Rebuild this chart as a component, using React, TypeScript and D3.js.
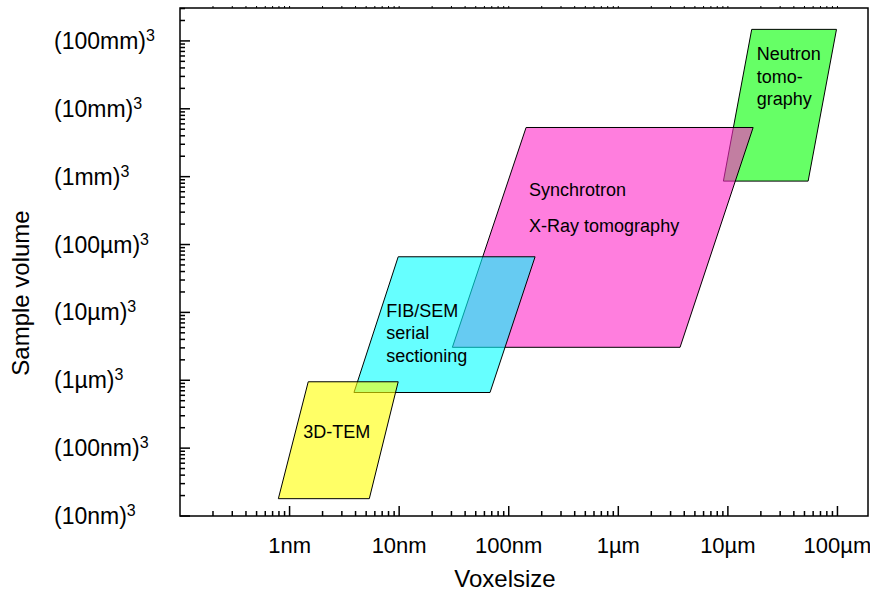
import React from "react";
import * as d3 from "d3";

const W = 870;
const H = 593;

// Techniques (drawn in this order)
const techniques = ["Neutron tomography", "Synchrotron X-Ray tomography", "FIB/SEM serial sectioning", "3D-TEM"];
const labelLines = [["Neutron", "tomo-", "graphy"], ["Synchrotron", "X-Ray tomography"], ["FIB/SEM", "serial", "sectioning"], ["3D-TEM"]];
// Sample edge length (m) at top / bottom of each region (volume = edge^3)
const topEdge = [0.148, 5.3e-3, 66e-6, 0.95e-6];
const bottomEdge = [0.86e-3, 3.06e-6, 0.66e-6, 18e-9];
// Voxel size (m) at the corners
const topMinVoxel = [16.5e-6, 144e-9, 9.8e-9, 1.48e-9];
const topMaxVoxel = [98e-6, 17e-6, 174e-9, 9.8e-9];
const bottomMinVoxel = [9.1e-6, 30.6e-9, 3.87e-9, 0.79e-9];
const bottomMaxVoxel = [54e-6, 3.66e-6, 67.5e-9, 5.34e-9];

const xTickValues = [1e-9, 1e-8, 1e-7, 1e-6, 1e-5, 1e-4];
const xTickLabels = ["1nm", "10nm", "100nm", "1µm", "10µm", "100µm"];
const yTickValues = [1e-8, 1e-7, 1e-6, 1e-5, 1e-4, 1e-3, 1e-2, 1e-1];
const yTickLabels = ["(10nm)", "(100nm)", "(1µm)", "(10µm)", "(100µm)", "(1mm)", "(10mm)", "(100mm)"];

// Styles / layout
const fills = ["#00ff00", "#ff28c8", "#00ffff", "#ffff00"];
const labelOffsets = [[5, 31, 22.5], [3, 69, 36], [-12, 60, 22.5], [-5, 56, 22.5]];
const FONT = "'Liberation Sans', Arial, Helvetica, sans-serif";

const left = 180, right = 868, top = 8, bottom = 516;

export default function App() {
  const x = d3.scaleLog().domain([1e-10, 1.9e-4]).range([left, right]);
  const y = d3.scaleLog().domain([1e-8, 0.3055]).range([bottom, top]);

  const xMinor: number[] = [];
  for (let e = -10; e <= -4; e++) {
    for (let k = 2; k <= 9; k++) {
      const v = k * Math.pow(10, e);
      if (v > 1e-10 && v < 1.9e-4) xMinor.push(v);
    }
  }
  const yMinor: number[] = [];
  for (let e = -8; e <= -1; e++) {
    for (let k = 2; k <= 9; k++) {
      const v = k * Math.pow(10, e);
      if (v > 1e-8 && v < 0.3055) yMinor.push(v);
    }
  }

  const line = d3.line<[number, number]>().x(d => x(d[0])).y(d => y(d[1]));

  return (
    <svg width={W} height={H} style={{ position: "absolute", left: 0, top: 0, background: "#fff" }} fontFamily={FONT}>
      <rect x={0} y={0} width={W} height={H} fill="#fff" />
      {techniques.map((t, i) => {
        const pts: [number, number][] = [
          [bottomMinVoxel[i], bottomEdge[i]],
          [bottomMaxVoxel[i], bottomEdge[i]],
          [topMaxVoxel[i], topEdge[i]],
          [topMinVoxel[i], topEdge[i]],
        ];
        return (
          <path key={t} d={line(pts) + "Z"} fill={fills[i]} fillOpacity={0.6} stroke="#000" strokeWidth={1} strokeLinejoin="miter" />
        );
      })}
      {techniques.map((t, i) => {
        const x0 = x(topMinVoxel[i]) + labelOffsets[i][0];
        const y0 = y(topEdge[i]) + labelOffsets[i][1];
        return (
          <text key={t + "l"} fontSize={18} fill="#000">
            {labelLines[i].map((s, j) => (
              <tspan key={j} x={x0} y={y0 + j * labelOffsets[i][2]}>{s}</tspan>
            ))}
          </text>
        );
      })}
      {/* frame */}
      <rect x={left} y={top} width={right - left} height={bottom - top} fill="none" stroke="#000" strokeWidth={1.5} />
      {/* x ticks */}
      {xTickValues.map(v => (
        <line key={"xM" + v} x1={x(v)} x2={x(v)} y1={bottom} y2={bottom - 10} stroke="#000" strokeWidth={1.5} />
      ))}
      {xMinor.map(v => (
        <line key={"xm" + v} x1={x(v)} x2={x(v)} y1={bottom} y2={bottom - 5} stroke="#000" strokeWidth={1.5} />
      ))}
      {[...xTickValues, ...xMinor].map(v => (
        <line key={"xt" + v} x1={x(v)} x2={x(v)} y1={top} y2={top - 2} stroke="#000" strokeWidth={1} />
      ))}
      {xTickValues.map((v, i) => (
        <text key={"xl" + v} x={x(v)} y={553} fontSize={22} textAnchor="middle" fill="#000">{xTickLabels[i]}</text>
      ))}
      {/* y ticks */}
      {yTickValues.map(v => (
        <line key={"yM" + v} x1={left} x2={left + 10} y1={y(v)} y2={y(v)} stroke="#000" strokeWidth={1.5} />
      ))}
      {yMinor.map(v => (
        <line key={"ym" + v} x1={left} x2={left + 5} y1={y(v)} y2={y(v)} stroke="#000" strokeWidth={1.5} />
      ))}
      {yTickValues.map((v, i) => (
        <text key={"yl" + v} x={54} y={y(v) + 8} fontSize={23} fill="#000">
          {yTickLabels[i]}
          <tspan dy={-8} fontSize={16}>3</tspan>
        </text>
      ))}
      <text x={505} y={587} fontSize={24} textAnchor="middle" fill="#000">Voxelsize</text>
      <text transform={`translate(29,293) rotate(-90)`} fontSize={24} textAnchor="middle" fill="#000">Sample volume</text>
    </svg>
  );
}
